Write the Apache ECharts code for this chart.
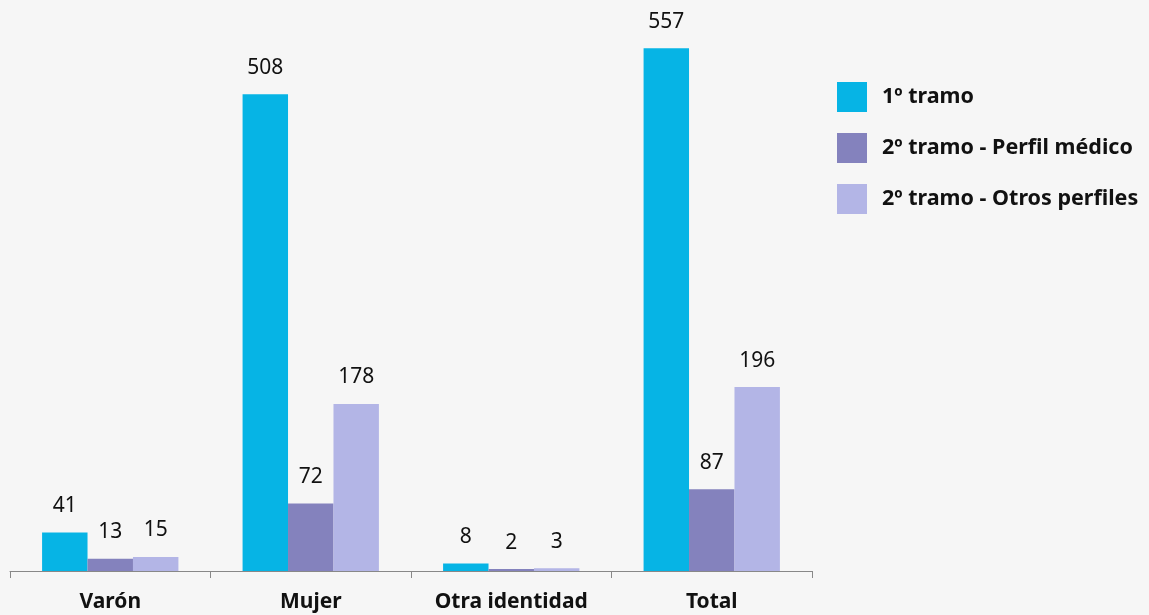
<!DOCTYPE html>
<html>
<head>
<meta charset="utf-8">
<script src="https://cdn.jsdelivr.net/npm/echarts@6/dist/echarts.min.js"></script>
<style>
  html, body { margin: 0; padding: 0; background: #f6f6f6; }
  #chart { width: 1149px; height: 615px; }
</style>
</head>
<body>
<div id="chart"></div>
<script>
const categories = ['Varón', 'Mujer', 'Otra identidad', 'Total'];
const seriesNames = ['1º tramo', '2º tramo - Perfil médico', '2º tramo - Otros perfiles'];
const tramo1 = [41, 508, 8, 557];
const perfilMedico = [13, 72, 2, 87];
const otrosPerfiles = [15, 178, 3, 196];

// colores de cada serie
const colors = ['#06b4e5', '#8482bd', '#b3b5e6'];
const fontFamily = '"Noto Sans", "DejaVu Sans", sans-serif';

const chart = echarts.init(document.getElementById('chart'));

const makeSeries = (name, data, color) => ({
  name,
  type: 'bar',
  data,
  barGap: '0%',
  barCategoryGap: '32%',
  itemStyle: { color },
  label: {
    show: true,
    position: 'top',
    distance: 16,
    color: '#111',
    fontSize: 21,
    fontFamily
  }
});

const option = {
  backgroundColor: '#f6f6f6',
  animation: false,
  color: colors,
  grid: { left: 10, right: 337, top: 8, bottom: 44 },
  legend: {
    orient: 'vertical',
    left: 832,
    top: 77,
    itemWidth: 30,
    itemHeight: 30,
    itemGap: 21,
    icon: 'rect',
    textStyle: {
      fontSize: 21.5,
      fontWeight: 'bold',
      color: '#111',
      fontFamily,
      padding: [0, 0, 0, 10]
    },
    data: seriesNames
  },
  xAxis: {
    type: 'category',
    data: categories,
    axisLine: { lineStyle: { color: '#888', width: 1 } },
    axisTick: { show: true, length: 7, lineStyle: { color: '#888' } },
    axisLabel: {
      fontSize: 21,
      fontWeight: 'bold',
      color: '#111',
      fontFamily,
      margin: 21
    }
  },
  yAxis: {
    type: 'value',
    min: 0,
    max: 600,
    show: false,
    splitLine: { show: false }
  },
  series: [
    makeSeries(seriesNames[0], tramo1, colors[0]),
    makeSeries(seriesNames[1], perfilMedico, colors[1]),
    makeSeries(seriesNames[2], otrosPerfiles, colors[2])
  ]
};

chart.setOption(option);
</script>
</body>
</html>
